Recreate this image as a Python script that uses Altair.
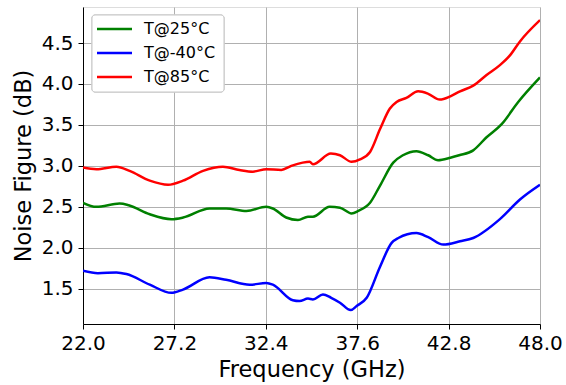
import altair as alt
import pandas as pd

freq_25 = [22.0, 22.76, 24.08, 24.6, 25.8, 27.03, 27.7, 29.2, 30.14, 31.3, 32.43, 32.8, 33.56, 34.23, 34.8, 35.08, 36.03, 36.62, 37.28, 37.66, 38.33, 38.9, 39.65, 40.2, 40.97, 41.64, 42.2, 42.9, 43.4, 44.2, 44.96, 45.82, 46.76, 48.0]
nf_25 = [2.55, 2.50, 2.54, 2.52, 2.41, 2.35, 2.37, 2.48, 2.48, 2.45, 2.50, 2.48, 2.37, 2.34, 2.38, 2.38, 2.50, 2.49, 2.42, 2.45, 2.55, 2.76, 3.04, 3.13, 3.18, 3.13, 3.07, 3.10, 3.13, 3.19, 3.35, 3.51, 3.78, 4.08]

freq_m40 = [22.0, 22.85, 23.9, 24.47, 25.8, 27.03, 27.69, 29.2, 30.14, 31.48, 32.43, 32.8, 33.94, 34.32, 34.8, 35.08, 35.65, 36.12, 36.62, 37.23, 37.57, 38.14, 38.9, 39.56, 39.94, 40.97, 41.64, 42.5, 43.45, 44.2, 45.72, 46.86, 48.0]
nf_m40 = [1.72, 1.69, 1.70, 1.68, 1.55, 1.45, 1.49, 1.64, 1.61, 1.55, 1.57, 1.55, 1.36, 1.35, 1.38, 1.37, 1.43, 1.39, 1.33, 1.24, 1.29, 1.39, 1.77, 2.06, 2.12, 2.18, 2.13, 2.04, 2.08, 2.12, 2.35, 2.59, 2.77]

freq_85 = [22.0, 22.76, 23.9, 24.65, 25.8, 26.84, 27.69, 28.83, 29.96, 30.9, 31.67, 32.43, 33.28, 33.85, 34.5, 34.9, 35.08, 36.1, 36.62, 37.28, 37.76, 38.33, 38.9, 39.46, 39.84, 40.4, 41.07, 41.64, 42.3, 42.9, 43.45, 44.2, 44.96, 45.72, 46.29, 46.86, 48.0]
nf_85 = [2.98, 2.96, 2.99, 2.94, 2.82, 2.77, 2.82, 2.94, 2.99, 2.95, 2.93, 2.96, 2.95, 3.00, 3.04, 3.05, 3.02, 3.15, 3.13, 3.05, 3.08, 3.17, 3.45, 3.70, 3.78, 3.83, 3.91, 3.88, 3.81, 3.85, 3.91, 3.98, 4.11, 4.23, 4.35, 4.52, 4.78]

series_names = ["T@25°C", "T@-40°C", "T@85°C"]
series_colors = ["green", "blue", "red"]
x_ticks = [22.0, 27.2, 32.4, 37.6, 42.8, 48.0]
y_ticks = [1.5, 2.0, 2.5, 3.0, 3.5, 4.0, 4.5]

rows = []
for name, fs, vs in zip(series_names, [freq_25, freq_m40, freq_85], [nf_25, nf_m40, nf_85]):
    for f, v in zip(fs, vs):
        rows.append({"freq": f, "nf": v, "series": name})
df = pd.DataFrame(rows)
legend_df = pd.DataFrame({"series": series_names, "idx": list(range(len(series_names)))})

FONT = "DejaVu Sans"
color_scale = alt.Scale(domain=series_names, range=series_colors)

axis_common = dict(labelFontSize=20, titleFontSize=22.5, labelFont=FONT, titleFont=FONT,
                   labelColor="black", titleColor="black", titleFontWeight="normal",
                   tickColor="black", domainColor="black", tickSize=5,
                   gridColor="#b0b0b0", gridWidth=1, labelFlush=False, format=".1f")

lines = alt.Chart(df).mark_line(strokeWidth=2.5, interpolate="monotone", clip=True).encode(
    x=alt.X("freq:Q", title="Frequency (GHz)",
            scale=alt.Scale(domain=[22, 48], nice=False, zero=False),
            axis=alt.Axis(values=x_ticks, labelPadding=4, titlePadding=5, **axis_common)),
    y=alt.Y("nf:Q", title="Noise Figure (dB)",
            scale=alt.Scale(domain=[1.07, 4.94], nice=False, zero=False),
            axis=alt.Axis(values=y_ticks, labelPadding=5, titlePadding=6, **axis_common)),
    color=alt.Color("series:N", scale=color_scale, legend=None),
)

leg_y = alt.Y("idx:Q", scale=alt.Scale(domain=[0, 2], range=[22, 70]), axis=None)

frame = alt.Chart(legend_df).mark_rect(
    fill="white", fillOpacity=0.8, stroke="#cccccc", strokeWidth=1, cornerRadius=3
).encode(x=alt.value(9), x2=alt.value(141), y=alt.value(8), y2=alt.value(85))

leg_lines = alt.Chart(legend_df).mark_rule(strokeWidth=2.5).encode(
    x=alt.value(14), x2=alt.value(49), y=leg_y,
    color=alt.Color("series:N", scale=color_scale, legend=None),
)

leg_text = alt.Chart(legend_df).mark_text(
    align="left", baseline="middle", fontSize=16, font=FONT, color="black"
).encode(x=alt.value(61), y=leg_y, text="series:N")

chart = alt.layer(lines, frame, leg_lines, leg_text).resolve_scale(
    y="independent"
).properties(
    width=457, height=317,
    autosize=alt.AutoSizeParams(type="none"),
    padding={"left": 83, "top": 7, "right": 26, "bottom": 61},
).configure_view(stroke="black", strokeWidth=1).configure(background="white")

chart.save("out.html", embed_options={"renderer": "svg", "actions": False})
